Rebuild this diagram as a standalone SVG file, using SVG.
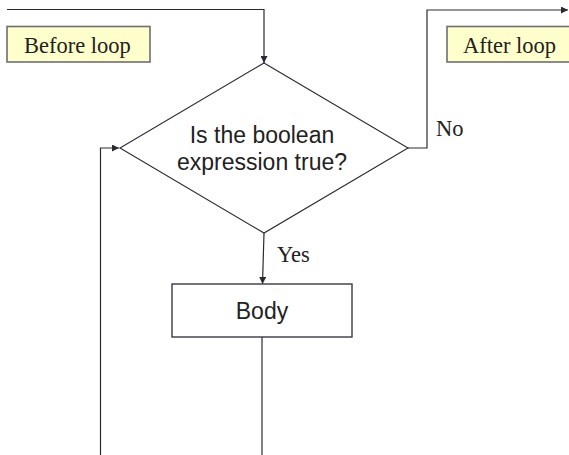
<svg xmlns="http://www.w3.org/2000/svg" width="569" height="455" viewBox="0 0 569 455">
  <style>
    .line { fill: none; stroke: #2a2a35; stroke-width: 1.2; }
    .note { fill: #ffffcc; stroke: #6e6e6e; stroke-width: 1.6; }
    .serif { font-family: "Liberation Serif", "Times New Roman", serif; font-size: 22.5px; fill: #222; }
    .sans { font-family: "Liberation Sans", Arial, sans-serif; font-size: 23px; fill: #222; text-anchor: middle; }
  </style>
  <defs>
    <marker id="arrow" viewBox="0 0 10 10" refX="10" refY="5" markerWidth="7" markerHeight="7" markerUnits="userSpaceOnUse" orient="auto">
      <path d="M0,0 L10,5 L0,10 Z" fill="#2a2a35"/>
    </marker>
  </defs>
  <rect width="569" height="455" fill="#ffffff"/>

  <g id="connectors">
    <!-- entry into the loop test -->
    <polyline class="line" points="7,9.5 264,9.5 264,63" marker-end="url(#arrow)"/>
    <!-- exit when the test is false -->
    <polyline class="line" points="407,148 427,148 427,10 568,10" marker-end="url(#arrow)"/>
    <!-- true branch into the body -->
    <line class="line" x1="264" y1="233" x2="262.5" y2="284" marker-end="url(#arrow)"/>
    <!-- out of the body, back round to the test -->
    <line class="line" x1="262" y1="337" x2="262" y2="455"/>
    <polyline class="line" points="100.5,455 100.5,148 119,148" marker-end="url(#arrow)"/>
    <text class="serif" x="436" y="136">No</text>
    <text class="serif" x="277" y="262">Yes</text>
  </g>

  <g id="before-loop">
    <rect class="note" x="7" y="26.5" width="143" height="35.5"/>
    <text class="serif" x="24" y="53">Before loop</text>
  </g>

  <g id="after-loop">
    <rect class="note" x="447" y="26.5" width="124" height="35.5"/>
    <text class="serif" x="463" y="53">After loop</text>
  </g>

  <g id="condition">
    <polygon points="264,63 408,148 264,233 120,148" fill="#ffffff" stroke="#2a2a35" stroke-width="1.1"/>
    <text class="sans" x="262" y="143">Is the boolean</text>
    <text class="sans" x="262" y="169.5">expression true?</text>
  </g>

  <g id="body">
    <rect x="172" y="284" width="180" height="53" fill="#ffffff" stroke="#3a3a45" stroke-width="1.4"/>
    <text class="sans" x="262" y="319">Body</text>
  </g>
</svg>
